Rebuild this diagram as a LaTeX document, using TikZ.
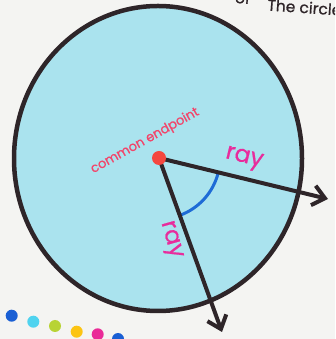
\documentclass[tikz,border=0pt]{standalone}
\usepackage{fontspec}
\setmainfont{Poppins}
\newfontfamily\lblfont{Poppins}[FakeBold=0.7]
\usetikzlibrary{arrows.meta,shapes.geometric}
\definecolor{bgc}{HTML}{F4F4F2}
\definecolor{fillc}{HTML}{AAE3EE}
\definecolor{linec}{HTML}{2E2529}
\definecolor{dotred}{HTML}{F5473F}
\definecolor{eptext}{HTML}{F2456A}
\definecolor{raytext}{HTML}{E82C9C}
\definecolor{arcblue}{HTML}{1E6BD6}
\definecolor{dblue}{HTML}{1A5FD4}
\definecolor{dcyan}{HTML}{4FD3EF}
\definecolor{dlime}{HTML}{B8D334}
\definecolor{dyellow}{HTML}{FCC413}
\definecolor{dmag}{HTML}{EA2A98}
\tikzset{
  bigcirc/.style={ellipse, draw=linec, fill=fillc, line width=4.5pt, minimum width=288pt, minimum height=305pt, inner sep=0pt},
  rayline/.style={draw=linec, line width=4pt, -{Straight Barb[length=12pt,width=20pt]}},
  raylbl/.style={text=raytext, font=\lblfont\fontsize{23.5}{25}\selectfont, inner sep=0pt},
  eplbl/.style={text=eptext, font=\lblfont\fontsize{13}{14}\selectfont, inner sep=0pt},
  epdot/.style={circle, fill=dotred, minimum size=14pt, inner sep=0pt},
  anglearc/.style={draw=arcblue, line width=3pt},
  deco/.style={circle, minimum size=12pt, inner sep=0pt},
  toptext/.style={text=linec, font=\lblfont\fontsize{15.5}{17}\selectfont, inner sep=0pt}
}
\begin{document}
\begin{tikzpicture}[x=1pt,y=1pt]
\useasboundingbox (0,0) rectangle (335,339);
\clip (0,0) rectangle (335,339);
\fill[bgc] (0,0) rectangle (335,339);
% top partial text
\node[toptext, anchor=base east, rotate=-4] (tof) at (250,335) {of};
\node[toptext, anchor=base west, rotate=-4] (ttop) at (267,328.5) {The circle};
% circle
\node[bigcirc] (circ) at (158,180.5) {};
% rays
\coordinate (C) at (159,181);
\coordinate (t1) at (328,140);
\coordinate (t2) at (222,7);
\draw[anglearc] (C) ++(-13.6:61) arc[start angle=-13.6, end angle=-70, radius=61];
\draw[rayline] (C) -- (t1);
\draw[rayline] (C) -- (t2);
\node[epdot] (ep) at (C) {};
% labels
\node[raylbl, rotate=-13.6] (r1) at (244,180) {ray};
\node[raylbl, rotate=-74] (r2) at (170,99) {ray};
\node[eplbl, rotate=29] (cl) at (145,198) {common endpoint};
% decorative dots
\node[deco, fill=dblue] (d1) at (11.7,23.3) {};
\node[deco, fill=dcyan] (d2) at (33.3,17.3) {};
\node[deco, fill=dlime] (d3) at (55,13) {};
\node[deco, fill=dyellow] (d4) at (76.7,7.3) {};
\node[deco, fill=dmag] (d5) at (97.7,4.7) {};
\node[deco, fill=dblue] (d6) at (118,0) {};
\end{tikzpicture}
\end{document}
